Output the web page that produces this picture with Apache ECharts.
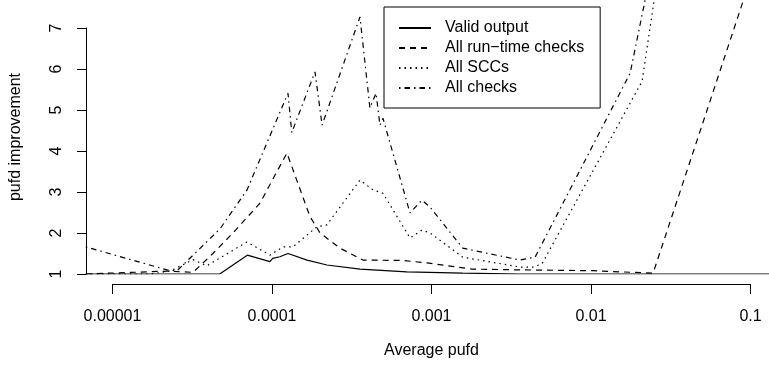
<!DOCTYPE html>
<html>
<head>
<meta charset="utf-8">
<script src="https://cdn.jsdelivr.net/npm/echarts@6/dist/echarts.min.js"></script>
<style>
  html, body { margin: 0; padding: 0; background: #fff; }
  #chart { width: 769px; height: 366px; }
</style>
</head>
<body>
<div id="chart"></div>
<script>
// Tick labels
const xTickLabels = ['0.00001', '0.0001', '0.001', '0.01', '0.1'];
const yTickLabels = ['1', '2', '3', '4', '5', '6', '7'];

// Valid output (solid)
const validX = [6.8e-6, 4.7e-5, 7.0e-5, 9.7e-5, 1.01e-4, 1.12e-4, 1.26e-4, 1.66e-4, 2.21e-4, 3.56e-4, 7.0e-4, 1.57e-3, 3.6e-3, 0.2];
const validY = [1, 1, 1.46, 1.3, 1.38, 1.42, 1.5, 1.34, 1.22, 1.12, 1.05, 1.02, 1.0, 1.0];

// All run-time checks (dashed)
const runtimeX = [6.8e-6, 2.2e-5, 3.2e-5, 4.26e-5, 5.69e-5, 8.41e-5, 1.24e-4, 1.73e-4, 2.0e-4, 2.67e-4, 3.72e-4, 6.6e-4, 9.4e-4, 1.8e-3, 3.6e-3, 1.03e-2, 2.45e-2, 0.1];
const runtimeY = [1, 1.07, 1.04, 1.5, 2.0, 2.73, 3.95, 2.4, 2.0, 1.63, 1.34, 1.33, 1.27, 1.12, 1.1, 1.08, 1.02, 8.2];

// All SCCs (dotted)
const sccX = [6.8e-6, 1.72e-5, 2.3e-5, 3.2e-5, 3.9e-5, 6.97e-5, 8.41e-5, 9.7e-5, 1.17e-4, 1.35e-4, 1.91e-4, 2.21e-4, 3.56e-4, 4.3e-4, 4.96e-4, 7.33e-4, 8.71e-4, 9.8e-4, 1.57e-3, 3.59e-3, 4.33e-3, 4.93e-3, 2.09e-2, 2.56e-2];
const sccY = [1, 1, 1.07, 1.35, 1.2, 1.78, 1.6, 1.46, 1.66, 1.66, 2.15, 2.2, 3.29, 3.05, 2.97, 1.88, 2.07, 2.0, 1.41, 1.17, 1.17, 1.25, 5.7, 8.0];

// All checks (dash-dot)
const checksX = [6.8e-6, 2.2e-5, 2.54e-5, 4.72e-5, 6.97e-5, 1.26e-4, 1.33e-4, 1.86e-4, 2.06e-4, 3.56e-4, 4.11e-4, 4.49e-4, 4.75e-4, 4.96e-4, 7.33e-4, 8.71e-4, 9.8e-4, 1.57e-3, 3.59e-3, 4.46e-3, 1.76e-2, 2.41e-2];
const checksY = [1.66, 1.1, 1.08, 2.1, 3.05, 5.41, 4.45, 5.93, 4.63, 7.27, 5.05, 5.41, 4.63, 4.8, 2.49, 2.8, 2.63, 1.63, 1.34, 1.41, 5.9, 8.5];

const seriesNames = ['Valid output', 'All run\u2212time checks', 'All SCCs', 'All checks'];

const FONT = '"Liberation Sans", Arial, Helvetica, sans-serif';

function zip(xs, ys) {
  return xs.map((x, i) => [x, ys[i]]);
}

function lineSeries(name, xs, ys, dash) {
  return {
    name: name,
    type: 'line',
    xAxisIndex: 0,
    yAxisIndex: 0,
    data: zip(xs, ys),
    symbol: 'none',
    lineStyle: { color: '#000', width: 1.2, type: dash },
    itemStyle: { color: '#000' },
    animation: false,
  };
}

const chart = echarts.init(document.getElementById('chart'));

const option = {
  backgroundColor: '#fff',
  animation: false,
  textStyle: { fontFamily: FONT },

  grid: [
    // data area
    { left: 86, right: 0, top: 0, bottom: 92 },
    // y axis (1..7)
    { left: 86, width: 20, top: 28, bottom: 92 },
    // x axis (0.00001..0.1)
    { left: 112.5, right: 18.5, top: 283, bottom: 82 },
  ],

  xAxis: [
    { gridIndex: 0, type: 'log', logBase: 10, min: 6.82e-6, max: 0.1306, show: false },
    { gridIndex: 1, type: 'value', show: false },
    {
      gridIndex: 2,
      type: 'log',
      logBase: 10,
      min: 1e-5,
      max: 0.1,
      axisLine: { lineStyle: { color: '#000', width: 1 } },
      axisTick: { length: 10, lineStyle: { color: '#000', width: 1 } },
      axisLabel: {
        color: '#000',
        fontSize: 16,
        fontFamily: FONT,
        margin: 25,
        formatter: (v) => xTickLabels[Math.round(Math.log10(v)) + 5],
      },
      splitLine: { show: false },
      name: 'Average pufd',
      nameLocation: 'middle',
      nameGap: 59,
      nameTextStyle: { color: '#000', fontSize: 16, fontFamily: FONT },
    },
  ],

  yAxis: [
    {
      gridIndex: 0,
      type: 'value',
      min: 1,
      max: 7.683,
      axisLine: { show: false },
      axisTick: { show: false },
      axisLabel: { show: false },
      splitLine: { show: false },
      name: 'pufd improvement',
      nameLocation: 'middle',
      nameGap: 62,
      nameTextStyle: { color: '#000', fontSize: 16, fontFamily: FONT },
    },
    {
      gridIndex: 1,
      type: 'value',
      min: 1,
      max: 7,
      interval: 1,
      axisLine: { show: true, lineStyle: { color: '#000', width: 1 } },
      axisTick: { show: true, length: 9, lineStyle: { color: '#000', width: 1 } },
      axisLabel: {
        color: '#000',
        fontSize: 16,
        fontFamily: FONT,
        rotate: 90,
        margin: 21,
        formatter: (v) => yTickLabels[v - 1],
      },
      splitLine: { show: false },
    },
    { gridIndex: 2, type: 'value', show: false },
  ],

  legend: {
    orient: 'vertical',
    left: 384,
    top: 7,
    padding: [11, 16, 10, 14],
    itemGap: 0,
    itemWidth: 32,
    itemHeight: 20,
    borderColor: '#000',
    borderWidth: 1,
    borderRadius: 0,
    backgroundColor: '#fff',
    data: seriesNames,
    // hide the marker circle, keep the line sample
    itemStyle: { color: 'transparent', borderColor: 'transparent', borderWidth: 0 },
    textStyle: { color: '#000', fontSize: 16, fontFamily: FONT, lineHeight: 20, padding: [0, 0, 0, 9] },
  },

  series: [
    lineSeries(seriesNames[0], validX, validY, 'solid'),
    lineSeries(seriesNames[1], runtimeX, runtimeY, [6, 5]),
    lineSeries(seriesNames[2], sccX, sccY, [1.5, 4]),
    lineSeries(seriesNames[3], checksX, checksY, [1.5, 4, 5.5, 4]),
  ],
};

chart.setOption(option);
</script>
</body>
</html>
